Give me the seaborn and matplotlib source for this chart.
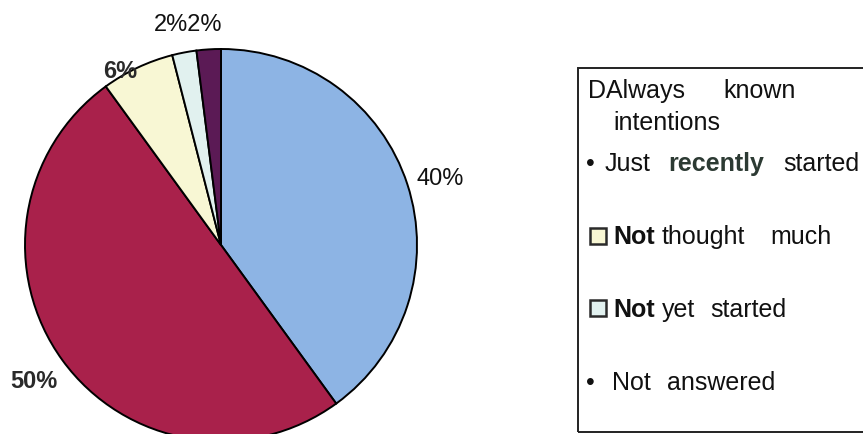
import matplotlib
matplotlib.use("Agg")
import matplotlib.pyplot as plt
from matplotlib.patches import Rectangle
import seaborn as sns
import numpy as np

categories = ["Always known intentions", "Just recently started", "Not thought much",
              "Not yet started", "Not answered"]
values = [40, 50, 6, 2, 2]
pct_labels = ["40%", "50%", "6%", "2%", "2%"]
colors = ["#8db4e4", "#a9214b", "#f8f7d4", "#e1f1ef", "#5b1a55"]

sns.set_theme(style="white")
plt.rcParams['font.family'] = ['Liberation Sans', 'DejaVu Sans']

W, H = 863, 434
fig = plt.figure(figsize=(W / 100, H / 100), dpi=100)
fig.patch.set_facecolor("white")

# pie axes: centre (221,245) px, radius 196 px
cx, cy, r = 221, 245, 196
ax = fig.add_axes([(cx - r) / W, (H - cy - r) / H, 2 * r / W, 2 * r / H])
wedges, _ = ax.pie(values, colors=sns.color_palette(colors), startangle=90, counterclock=False,
                   radius=1, wedgeprops=dict(edgecolor="black", linewidth=1.4))
ax.set_aspect("auto")
ax.set_xlim(-1, 1)
ax.set_ylim(-1, 1)
ax.axis("off")
for w in wedges:
    w.set_clip_on(False)

def px(x, y):
    return ((x - cx) / r, (cy - y) / r)

# percentage labels
ax.text(*px(440, 179), "40%", fontsize=17, ha="center", va="center", color="#111111", clip_on=False)
ax.text(*px(34, 382), "50%", fontsize=17, fontweight="bold", ha="center", va="center", color="#2a2a2a", clip_on=False)
ax.text(*px(120, 71), "6%", fontsize=17, fontweight="bold", ha="center", va="center", color="#2a2a2a", clip_on=False)
ax.text(*px(188, 25), "2%2%", fontsize=17, ha="center", va="center", color="#111111", clip_on=False)

# legend box (figure pixel coords, top-origin)
def fx(x):
    return x / W
def fy(y):
    return (H - y) / H

box = Rectangle((fx(578), fy(432)), fx(900) - fx(578), fy(68) - fy(432),
                transform=fig.transFigure, fill=False, edgecolor="#222222", linewidth=1.4)
fig.patches.append(box)

legend_words = [
    (588, 98, "DAlways", "normal", "#111111"),
    (723, 98, "known", "normal", "#111111"),
    (613, 130, "intentions", "normal", "#111111"),
    (586, 171, "•", "normal", "#111111"),
    (605, 171, "Just", "normal", "#111111"),
    (668, 171, "recently", "bold", "#2c3a33"),
    (783, 171, "started", "normal", "#111111"),
    (613, 244, "Not", "bold", "#111111"),
    (662, 244, "thought", "normal", "#111111"),
    (770, 244, "much", "normal", "#111111"),
    (613, 317, "Not", "bold", "#111111"),
    (662, 317, "yet", "normal", "#111111"),
    (710, 317, "started", "normal", "#111111"),
    (586, 390, "•", "normal", "#111111"),
    (612, 390, "Not", "normal", "#111111"),
    (667, 390, "answered", "normal", "#111111"),
]
for x, y, text, weight, col in legend_words:
    fig.text(fx(x), fy(y), text, fontsize=18, fontweight=weight, color=col,
             ha="left", va="baseline")

# legend squares
for top, c in [(228, colors[2]), (300, colors[3])]:
    fig.patches.append(Rectangle((fx(590), fy(top + 16)), fx(606) - fx(590), fy(top) - fy(top + 16),
                                 transform=fig.transFigure, facecolor=c, edgecolor="#2a2a2a", linewidth=1.8))

fig.savefig("out.png", dpi=100)
